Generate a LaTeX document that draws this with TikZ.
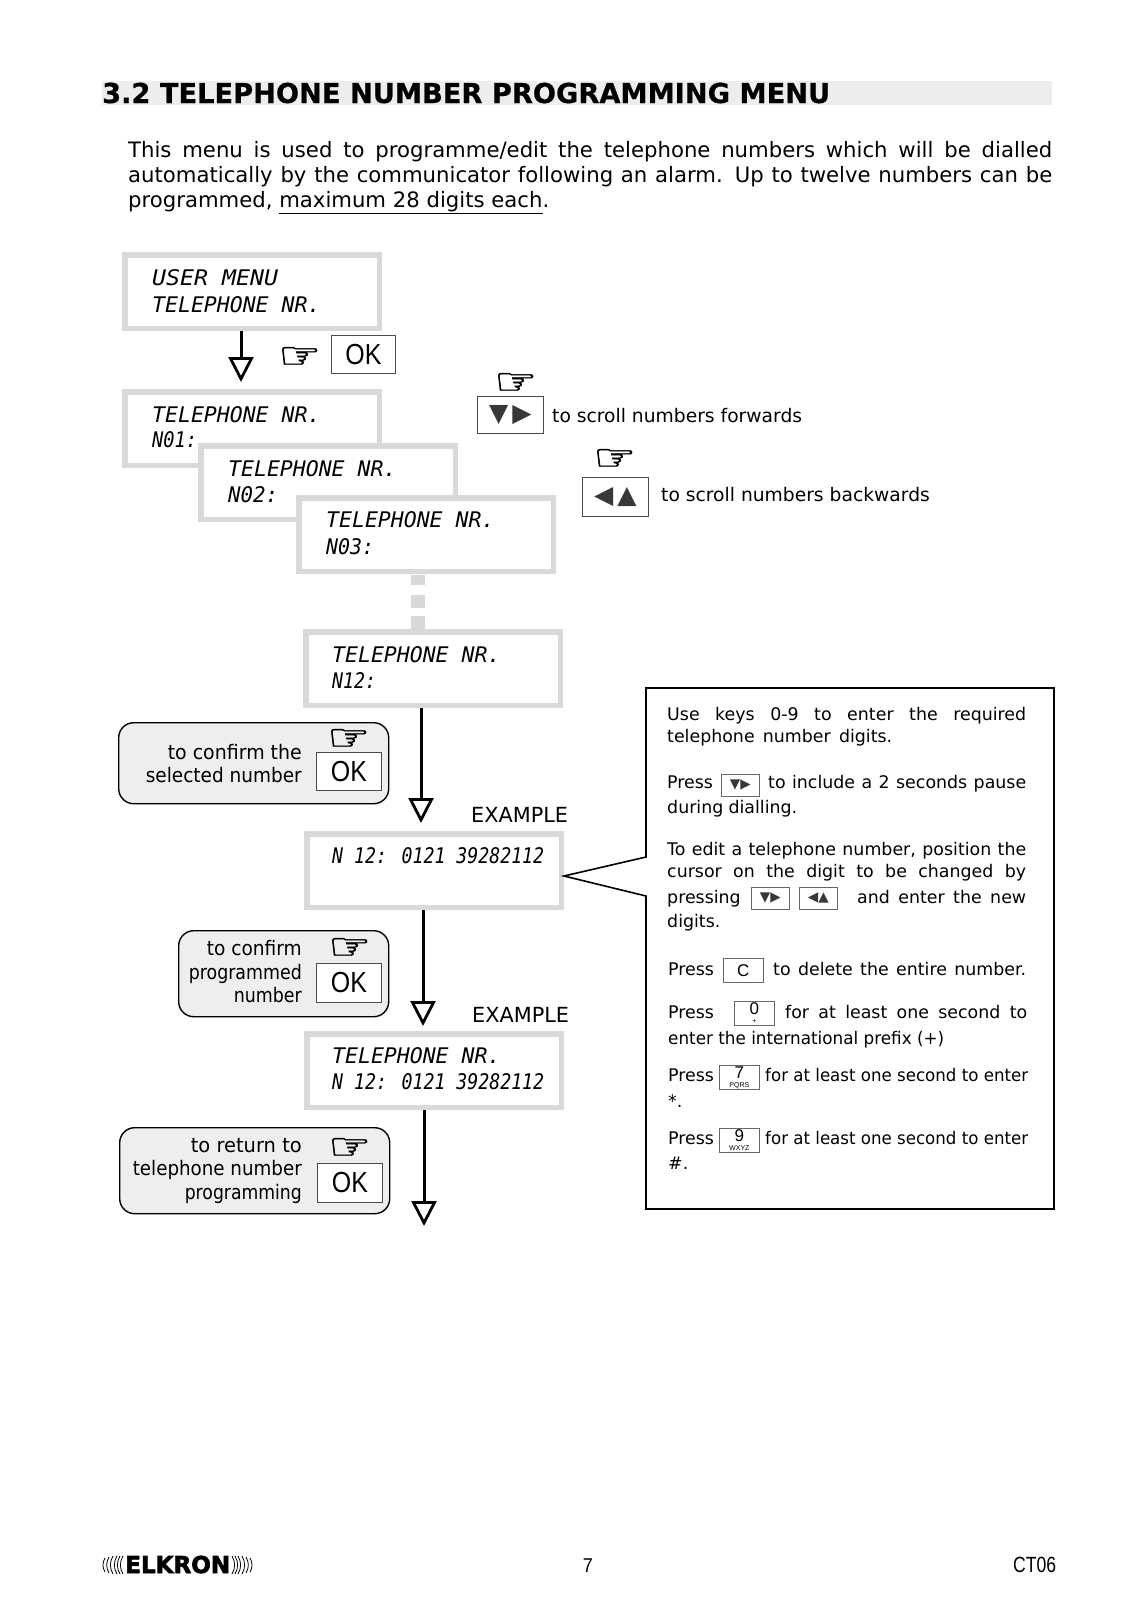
\documentclass[tikz,border=0pt]{standalone}
\usepackage{graphicx}
\usepackage{fontspec}
\usetikzlibrary{arrows.meta}
\setmainfont{DejaVu Sans}
\newfontfamily\lcdfont{DejaVu Sans Mono}
\newfontfamily\keyfont{Liberation Sans}
\newfontfamily\fingerfont[FakeBold=1.2]{DejaVu Sans}
\newfontfamily\logofont[BoldFeatures={FakeBold=2.5}]{DejaVu Sans}
\newfontfamily\titlefont[BoldFeatures={FakeBold=.6}]{DejaVu Sans}
\newcommand{\fitline}[2]{\makebox[#1pt][s]{#2}}
\newcommand{\fitbox}[2]{\resizebox{#1pt}{\height}{#2}}
\newcommand{\fingermark}{\resizebox{43pt}{21pt}{\fingerfont ☞}}
\colorlet{lcdgray}{gray!30}
\colorlet{promptgray}{gray!13}
\colorlet{keygray}{black!78}
\tikzset{
  lcd/.style={draw=lcdgray, fill=white, line width=5.5pt, anchor=north west, inner sep=0pt, minimum width=254.5pt, minimum height=73.5pt},
  dots/.style={anchor=north west, fill=lcdgray, inner sep=0pt, minimum width=14pt},
  lcdtext/.style={anchor=base west, inner sep=0pt, font=\fontsize{21.5}{24}\selectfont\lcdfont\itshape},
  prompt/.style={draw=black, line width=1.4pt, fill=promptgray, rounded corners=15pt, anchor=north west, inner sep=0pt},
  prompttext/.style={anchor=base east, inner sep=0pt, font=\fontsize{20}{24}\selectfont},
  okkey/.style={draw=black!70, fill=white, line width=.8pt, anchor=north west, inner sep=0pt, minimum width=65pt, minimum height=38pt, font=\fontsize{29}{30}\selectfont\keyfont},
  arrowkey/.style={draw=black!70, fill=white, line width=.8pt, anchor=north west, inner sep=0pt, text=keygray, font=\fontsize{25}{26}\selectfont},
  smallkey/.style={draw=black!60, fill=white, line width=.7pt, anchor=north west, inner sep=0pt, minimum width=38pt, minimum height=22pt, text=keygray, font=\fontsize{13.5}{14}\selectfont},
  numkey/.style={draw=black!60, fill=white, line width=.7pt, anchor=north west, inner sep=0pt, minimum width=40pt, minimum height=24pt, align=center, font=\fontsize{17}{12}\selectfont\keyfont},
  fingertip/.style={anchor=north west, inner sep=0pt},
  body/.style={anchor=base west, inner sep=0pt, font=\fontsize{21.2}{24}\selectfont},
  side/.style={anchor=base west, inner sep=0pt, font=\fontsize{18.7}{24}\selectfont},
  infotext/.style={anchor=base west, inner sep=0pt, font=\fontsize{17.4}{20}\selectfont},
  exampletext/.style={anchor=base west, inner sep=0pt, font=\fontsize{20.8}{24}\selectfont},
  flow/.style={line width=3pt, -{Triangle[open, length=25pt, width=25pt, line width=2.8pt]}},
  boxline/.style={draw=black, line width=1.6pt, line join=miter},
  logoarc/.style={line width=.8pt, black},
  titleband/.style={fill=gray!14, anchor=north west, inner sep=0pt, minimum width=950pt, minimum height=24pt}
}
\begin{document}
\begin{tikzpicture}[x=1pt, y=-1pt]
\useasboundingbox (0,0) rectangle (1122,1614);
% Title
\draw (102,81) node[titleband] (band) {};
\draw (102,103) node[anchor=base west, inner sep=0pt, font=\fontsize{27.4}{30}\selectfont\titlefont\bfseries] (title) {\fitbox{728}{3.2 TELEPHONE NUMBER PROGRAMMING MENU}};
\draw (128,157) node[body] (introA) {\fitline{924}{This menu is used to programme/edit the telephone numbers which will be dialled}};
\draw (128,182) node[body] (introB) {\fitline{924}{automatically by the communicator following an alarm. Up to twelve numbers can be}};
\draw (128,207) node[body] (introC) {programmed, \underline{maximum 28 digits each}.};
% Displays
\draw (122,252) node[lcd] (lcdA) {};
\draw (152,285) node[lcdtext] (lcdAa) {\fitbox{126}{USER MENU}};
\draw (152,312) node[lcdtext] (lcdAb) {TELEPHONE NR.};
\draw (122,389) node[lcd] (lcdB) {};
\draw (152,422) node[lcdtext] (lcdBa) {TELEPHONE NR.};
\draw (152,447) node[lcdtext] (lcdBb) {\fitbox{45}{N01:}};
\draw (198,443) node[lcd] (lcdC) {};
\draw (228,476) node[lcdtext] (lcdCa) {TELEPHONE NR.};
\draw (228,502) node[lcdtext] (lcdCb) {\fitbox{50}{N02:}};
\draw (296,495) node[lcd] (lcdD) {};
\draw (326,527) node[lcdtext] (lcdDa) {TELEPHONE NR.};
\draw (326,554) node[lcdtext] (lcdDb) {\fitbox{48}{N03:}};
\draw (411,575) node[dots, minimum height=10pt] (dotsA) {};
\draw (411,595) node[dots, minimum height=13pt] (dotsB) {};
\draw (411,616) node[dots, minimum height=14pt] (dotsC) {};
\draw (303,629) node[lcd] (lcdE) {};
\draw (332,662) node[lcdtext] (lcdEa) {TELEPHONE NR.};
\draw (332,688) node[lcdtext] (lcdEb) {\fitbox{44}{N12:}};
\draw (304,831) node[lcd] (lcdF) {};
\draw (332,863) node[lcdtext] (lcdFa) {\fitbox{212}{N 12: 0121 39282112}};
\draw (304,1031) node[lcd] (lcdG) {};
\draw (332,1063) node[lcdtext] (lcdGa) {TELEPHONE NR.};
\draw (332,1089) node[lcdtext] (lcdGb) {\fitbox{212}{N 12: 0121 39282112}};
% Arrows
\coordinate (tipA) at (241,382);
\coordinate (tipB) at (421,823);
\coordinate (tipC) at (423,1026);
\coordinate (tipD) at (424,1226);
\draw[flow] (tipA |- lcdA.south) -- (tipA);
\draw[flow] (tipB |- lcdE.south) -- (tipB);
\draw[flow] (tipC |- lcdF.south) -- (tipC);
\draw[flow] (tipD |- lcdG.south) -- (tipD);
% Keys at the top
\draw (278,347) node[fingertip] (fingerA) {\fingermark};
\draw (331,335) node[okkey, minimum width=64pt] (okA) {\fitbox{36}{OK}};
\draw (494,373) node[fingertip] (fingerB) {\fingermark};
\draw (477,396) node[arrowkey, minimum width=66pt, minimum height=37pt] (forward) {▼\thinspace▶};
\draw (552,422) node[side] (forwardtext) {to scroll numbers forwards};
\draw (593,449) node[fingertip] (fingerC) {\fingermark};
\draw (582,477) node[arrowkey, minimum width=66pt, minimum height=39pt] (backward) {◀\thinspace▲};
\draw (661,501) node[side] (backwardtext) {to scroll numbers backwards};
% Prompts
\draw (118,722) node[prompt, minimum width=270pt, minimum height=81pt] (promptA) {};
\draw (302,759) node[prompttext] (promptAa) {\fitbox{134}{to confirm the}};
\draw (302,782) node[prompttext] (promptAb) {\fitbox{156}{selected number}};
\draw (327,729) node[fingertip] (fingerD) {\fingermark};
\draw (316,752) node[okkey] (okB) {\fitbox{36}{OK}};
\draw (471,822) node[exampletext] (exampleA) {EXAMPLE};
\draw (178,930) node[prompt, minimum width=210pt, minimum height=86pt] (promptB) {};
\draw (302,955) node[prompttext] (promptBa) {\fitbox{95}{to confirm}};
\draw (302,979) node[prompttext] (promptBb) {\fitbox{113}{programmed}};
\draw (302,1002) node[prompttext] (promptBc) {\fitbox{68}{number}};
\draw (328,938) node[fingertip] (fingerE) {\fingermark};
\draw (316,963) node[okkey, minimum height=39pt] (okC) {\fitbox{36}{OK}};
\draw (472,1022) node[exampletext] (exampleB) {EXAMPLE};
\draw (119,1127) node[prompt, minimum width=270pt, minimum height=86pt] (promptC) {};
\draw (302,1152) node[prompttext] (promptCa) {\fitbox{111}{to return to}};
\draw (302,1175) node[prompttext] (promptCb) {\fitbox{169}{telephone number}};
\draw (302,1199) node[prompttext] (promptCc) {\fitbox{117}{programming}};
\draw (328,1138) node[fingertip] (fingerF) {\fingermark};
\draw (317,1163) node[okkey, minimum height=39pt] (okD) {\fitbox{36}{OK}};
% Info box
\coordinate (apex) at (564,876);
\draw[boxline] (646,857) -- (646,688) -- (1054,688) -- (1054,1209) -- (646,1209) -- (646,896) -- (apex) -- cycle;
\draw (667,720) node[infotext] (infoA) {\fitline{359}{Use keys 0-9 to enter the required}};
\draw (667,742) node[infotext] (infoB) {\fitline{225}{telephone number digits.}};
\draw (667,788) node[infotext] (infoC) {Press};
\draw (721,774) node[smallkey] (keyA) {▼▶};
\draw (768,788) node[infotext] (infoD) {\fitline{258}{to include a 2 seconds pause}};
\draw (667,813) node[infotext] (infoE) {\fitline{130}{during dialling.}};
\draw (667,855) node[infotext] (infoF) {\fitline{359}{To edit a telephone number, position the}};
\draw (667,877) node[infotext] (infoG) {\fitline{359}{cursor on the digit to be changed by}};
\draw (667,903) node[infotext] (infoH) {pressing};
\draw (751,887) node[smallkey] (keyB) {▼▶};
\draw (799,887) node[smallkey] (keyC) {◀▲};
\draw (857,903) node[infotext] (infoI) {\fitline{169}{and enter the new}};
\draw (667,927) node[infotext] (infoJ) {digits.};
\draw (668,975) node[infotext] (infoK) {Press};
\draw (723,958) node[numkey] (keyD) {C};
\draw (773,975) node[infotext] (infoL) {\fitline{253}{to delete the entire number.}};
\draw (668,1018) node[infotext] (infoM) {Press};
\draw (734,1001) node[numkey] (keyE) {0\\[-3pt]{\fontsize{7}{7}\selectfont +}};
\draw (785,1018) node[infotext] (infoN) {\fitline{242}{for at least one second to}};
\draw (668,1044) node[infotext] (infoO) {\fitbox{276}{enter the international prefix (+)}};
\draw (668,1081) node[infotext] (infoP) {Press};
\draw (719,1065) node[numkey] (keyF) {7\\[-3pt]{\fontsize{7}{7}\selectfont PQRS}};
\draw (765,1081) node[infotext] (infoQ) {\fitbox{263}{for at least one second to enter}};
\draw (668,1107) node[infotext] (infoR) {*.};
\draw (668,1144) node[infotext] (infoS) {Press};
\draw (719,1128) node[numkey] (keyG) {9\\[-3pt]{\fontsize{7}{7}\selectfont WXYZ}};
\draw (765,1144) node[infotext] (infoT) {\fitbox{263}{for at least one second to enter}};
\draw (668,1169) node[infotext] (infoU) {\#.};
% Footer
\draw (125,1573) node[anchor=base west, inner sep=0pt, font=\fontsize{23.3}{26}\selectfont\logofont\bfseries] (logo) {\fitbox{105}{ELKRON}};
\draw[logoarc] (123,1556) to[bend right=30] (123,1574);
\draw[logoarc] (120,1556) to[bend right=30] (120,1574);
\draw[logoarc] (117,1556) to[bend right=30] (117,1574);
\draw[logoarc] (113,1556) to[bend right=30] (113,1574);
\draw[logoarc] (109,1557) to[bend right=30] (109,1573);
\draw[logoarc] (105,1558) to[bend right=30] (105,1572);
\draw[logoarc] (232,1556) to[bend left=30] (232,1574);
\draw[logoarc] (235,1556) to[bend left=30] (235,1574);
\draw[logoarc] (238,1556) to[bend left=30] (238,1574);
\draw[logoarc] (242,1556) to[bend left=30] (242,1574);
\draw[logoarc] (246,1557) to[bend left=30] (246,1573);
\draw[logoarc] (250,1558) to[bend left=30] (250,1572);
\draw (582,1572) node[anchor=base east, inner sep=0pt, font=\fontsize{20}{22}\selectfont\keyfont, xshift=11pt] (pagenum) {\fitbox{10}{7}};
\draw (1013,1572) node[anchor=base west, inner sep=0pt, font=\fontsize{22}{22}\selectfont\keyfont] (code) {\fitbox{43}{CT06}};
\end{tikzpicture}
\end{document}
